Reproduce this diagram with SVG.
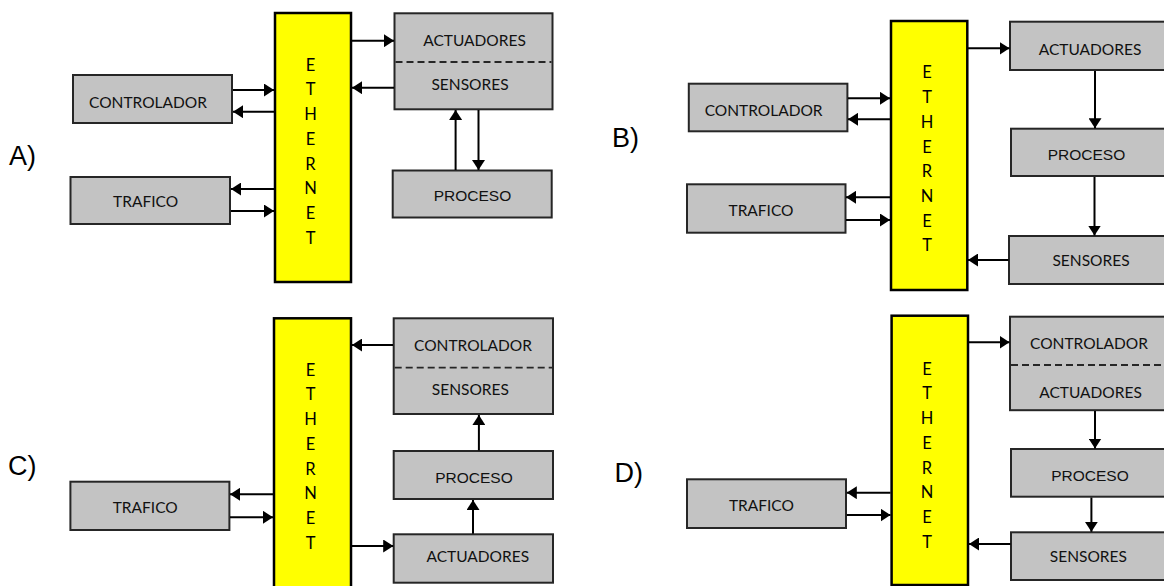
<svg xmlns="http://www.w3.org/2000/svg" width="1164" height="586" viewBox="0 0 1164 586">
<style>
.box{fill:#c3c3c3;stroke:#262626;stroke-width:2}
.eth{fill:#ffff00;stroke:#000;stroke-width:2.5}
.dash{stroke:#262626;stroke-width:1.8;stroke-dasharray:7,4;fill:none}
.lbl{font-family:Lato,"Open Sans",sans-serif;font-size:15.5px;fill:#111;text-anchor:middle}
.proc{font-family:"Liberation Sans",Arial,sans-serif;font-size:15.5px;fill:#111;text-anchor:middle}
.ethl{font-family:Lato,"Open Sans",sans-serif;font-size:16.5px;fill:#000;text-anchor:middle}
.pl{font-family:"Liberation Sans",Arial,sans-serif;font-size:27px;fill:#000}
.c line{stroke:#000;stroke-width:2;marker-end:url(#ah)}
</style>
<defs>
<marker id="ah" viewBox="0 0 10 13" refX="10" refY="6.5" markerWidth="10" markerHeight="13" markerUnits="userSpaceOnUse" orient="auto"><path d="M0,0 L10,6.5 L0,13 z" fill="#000"/></marker>
</defs>
<rect width="1164" height="586" fill="#fff"/>

<!-- Panel labels -->
<text class="pl" x="9" y="164.5">A)</text>
<text class="pl" x="612" y="147.3">B)</text>
<text class="pl" x="8" y="474.8">C)</text>
<text class="pl" x="614.5" y="482.3">D)</text>

<!-- Panel A -->
<g id="a-ethernet">
<rect class="eth" x="275" y="13" width="76" height="269"/>
<text class="ethl" x="310.5" y="70.7">E</text><text class="ethl" x="310.5" y="95.4">T</text><text class="ethl" x="310.5" y="120.1">H</text><text class="ethl" x="310.5" y="144.8">E</text><text class="ethl" x="310.5" y="169.5">R</text><text class="ethl" x="310.5" y="194.2">N</text><text class="ethl" x="310.5" y="218.9">E</text><text class="ethl" x="310.5" y="243.6">T</text>
</g>
<g id="a-actuadores-sensores">
<rect class="box" x="394.5" y="13.3" width="158" height="96"/>
<line class="dash" x1="395.5" y1="62" x2="551.5" y2="62"/>
<text class="lbl" x="474.5" y="46">ACTUADORES</text>
<text class="lbl" x="470" y="90">SENSORES</text>
</g>
<g id="a-controlador">
<rect class="box" x="73" y="75" width="159" height="48"/>
<text class="lbl" x="148" y="108.3">CONTROLADOR</text>
</g>
<g id="a-trafico">
<rect class="box" x="70.5" y="177" width="159.5" height="47"/>
<text class="lbl" x="145.6" y="207">TRAFICO</text>
</g>
<g id="a-proceso">
<rect class="box" x="392.7" y="170.5" width="159" height="47"/>
<text class="proc" x="472.5" y="201">PROCESO</text>
</g>

<!-- Panel B -->
<g id="b-ethernet">
<rect class="eth" x="891" y="21" width="76.3" height="269"/>
<text class="ethl" x="927" y="78.4">E</text><text class="ethl" x="927" y="103.1">T</text><text class="ethl" x="927" y="127.8">H</text><text class="ethl" x="927" y="152.5">E</text><text class="ethl" x="927" y="177.2">R</text><text class="ethl" x="927" y="201.9">N</text><text class="ethl" x="927" y="226.6">E</text><text class="ethl" x="927" y="251.3">T</text>
</g>
<g id="b-actuadores">
<rect class="box" x="1010" y="21.7" width="170" height="48.3"/>
<text class="lbl" x="1090" y="54.5">ACTUADORES</text>
</g>
<g id="b-controlador">
<rect class="box" x="688.8" y="83.7" width="158.6" height="47.6"/>
<text class="lbl" x="763.6" y="115.5">CONTROLADOR</text>
</g>
<g id="b-trafico">
<rect class="box" x="687" y="184.3" width="158.5" height="48.4"/>
<text class="lbl" x="761" y="215.5">TRAFICO</text>
</g>
<g id="b-proceso">
<rect class="box" x="1011" y="128.7" width="170" height="47.3"/>
<text class="proc" x="1086.5" y="159.5">PROCESO</text>
</g>
<g id="b-sensores">
<rect class="box" x="1009" y="236" width="170" height="48"/>
<text class="lbl" x="1091" y="265.5">SENSORES</text>
</g>

<!-- Panel C -->
<g id="c-ethernet">
<rect class="eth" x="274" y="318.3" width="77" height="280"/>
<text class="ethl" x="310.5" y="375.7">E</text><text class="ethl" x="310.5" y="400.4">T</text><text class="ethl" x="310.5" y="425.1">H</text><text class="ethl" x="310.5" y="449.8">E</text><text class="ethl" x="310.5" y="474.5">R</text><text class="ethl" x="310.5" y="499.2">N</text><text class="ethl" x="310.5" y="523.9">E</text><text class="ethl" x="310.5" y="548.6">T</text>
</g>
<g id="c-controlador-sensores">
<rect class="box" x="393.7" y="318.3" width="159.3" height="95.7"/>
<line class="dash" x1="394.7" y1="367.7" x2="552" y2="367.7"/>
<text class="lbl" x="473" y="351">CONTROLADOR</text>
<text class="lbl" x="470.4" y="394.5">SENSORES</text>
</g>
<g id="c-proceso">
<rect class="box" x="393.7" y="451" width="159.3" height="48"/>
<text class="proc" x="474" y="483">PROCESO</text>
</g>
<g id="c-actuadores">
<rect class="box" x="393.7" y="534.3" width="159.3" height="48.4"/>
<text class="lbl" x="477.8" y="562">ACTUADORES</text>
</g>
<g id="c-trafico">
<rect class="box" x="70.4" y="481.7" width="159" height="48.3"/>
<text class="lbl" x="145.2" y="512.8">TRAFICO</text>
</g>

<!-- Panel D -->
<g id="d-ethernet">
<rect class="eth" x="891.6" y="315.7" width="76.4" height="269.3"/>
<text class="ethl" x="927" y="374.7">E</text><text class="ethl" x="927" y="399.4">T</text><text class="ethl" x="927" y="424.1">H</text><text class="ethl" x="927" y="448.8">E</text><text class="ethl" x="927" y="473.5">R</text><text class="ethl" x="927" y="498.2">N</text><text class="ethl" x="927" y="522.9">E</text><text class="ethl" x="927" y="547.6">T</text>
</g>
<g id="d-controlador-actuadores">
<rect class="box" x="1010" y="316.7" width="170" height="93.5"/>
<line class="dash" x1="1011" y1="365" x2="1170" y2="365"/>
<text class="lbl" x="1089" y="349.3">CONTROLADOR</text>
<text class="lbl" x="1090.5" y="397.7">ACTUADORES</text>
</g>
<g id="d-proceso">
<rect class="box" x="1011" y="449" width="170" height="47.7"/>
<text class="proc" x="1090" y="481">PROCESO</text>
</g>
<g id="d-sensores">
<rect class="box" x="1011" y="532.3" width="170" height="47.7"/>
<text class="lbl" x="1088.4" y="561.5">SENSORES</text>
</g>
<g id="d-trafico">
<rect class="box" x="687" y="479.3" width="159" height="48.7"/>
<text class="lbl" x="761.4" y="510.5">TRAFICO</text>
</g>

<!-- Connectors -->
<g id="connectors" class="c">
<!-- A -->
<line x1="352" y1="40.7" x2="394" y2="40.7"/>
<line x1="394" y1="87.7" x2="352" y2="87.7"/>
<line x1="233" y1="90" x2="274" y2="90"/>
<line x1="274" y1="111.7" x2="233" y2="111.7"/>
<line x1="274" y1="189" x2="231" y2="189"/>
<line x1="231" y1="211" x2="274" y2="211"/>
<line x1="455.6" y1="170" x2="455.6" y2="110"/>
<line x1="478.5" y1="110" x2="478.5" y2="170"/>
<!-- B -->
<line x1="968" y1="48.3" x2="1009.5" y2="48.3"/>
<line x1="848" y1="98.3" x2="890" y2="98.3"/>
<line x1="890" y1="119.3" x2="848" y2="119.3"/>
<line x1="890" y1="197.3" x2="846" y2="197.3"/>
<line x1="846" y1="220" x2="890" y2="220"/>
<line x1="1008.5" y1="260" x2="968" y2="260"/>
<line x1="1095" y1="71" x2="1095" y2="128.2"/>
<line x1="1094.5" y1="177" x2="1094.5" y2="235.5"/>
<!-- C -->
<line x1="393" y1="345" x2="352" y2="345"/>
<line x1="273" y1="494.3" x2="230" y2="494.3"/>
<line x1="230" y1="517.3" x2="273" y2="517.3"/>
<line x1="352" y1="546" x2="393.2" y2="546"/>
<line x1="473" y1="533.8" x2="473" y2="500"/>
<line x1="478.9" y1="450.5" x2="478.9" y2="415"/>
<!-- D -->
<line x1="969" y1="342.3" x2="1009.5" y2="342.3"/>
<line x1="890.5" y1="492.7" x2="846.8" y2="492.7"/>
<line x1="846.8" y1="515" x2="890.5" y2="515"/>
<line x1="1010.5" y1="544" x2="969" y2="544"/>
<line x1="1095" y1="411" x2="1095" y2="448.5"/>
<line x1="1091.4" y1="497.5" x2="1091.4" y2="531.8"/>
</g>
</svg>
